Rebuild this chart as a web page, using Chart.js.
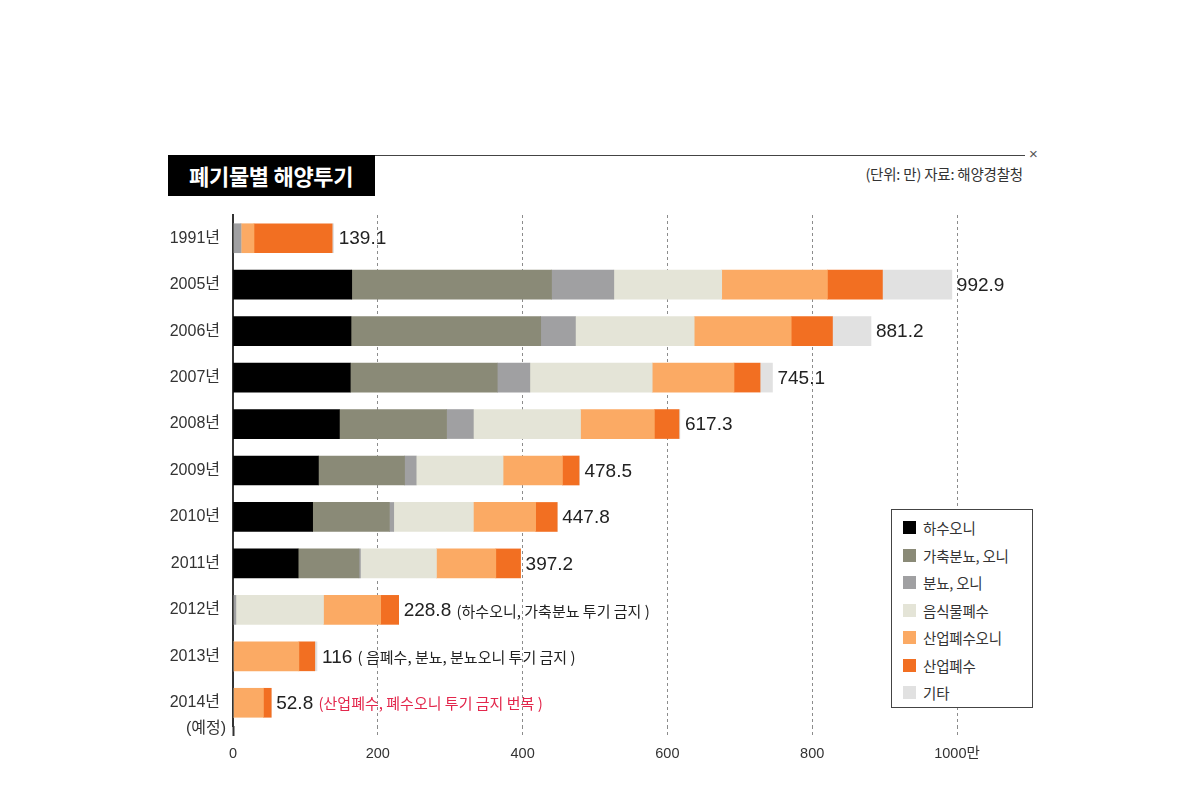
<!DOCTYPE html>
<html>
<head>
<meta charset="utf-8">
<script src="https://cdn.jsdelivr.net/npm/chart.js@4"></script>
<style>
  body { margin: 0; width: 1190px; height: 809px; background: #fff; position: relative; overflow: hidden;
         font-family: "Noto Sans CJK KR", "Liberation Sans", sans-serif; color: #333; }
  #myChart { position: absolute; left: 0; top: 0; }
  .titleBox { position: absolute; left: 168px; top: 155px; width: 207px; height: 41px; background: #000;
              color: #fff; font-weight: 700; font-size: 22px; line-height: 41px; box-sizing: border-box;
              padding-left: 21px; letter-spacing: -0.3px; }
  .topLine { position: absolute; left: 375px; top: 155px; width: 650px; height: 1px; background: #444; }
  .close { position: absolute; left: 1029px; top: 145px; font-size: 15px; color: #555; font-family: "Liberation Sans", sans-serif; }
  .unit { position: absolute; right: 167px; top: 163px; font-size: 14.5px; color: #333; letter-spacing: -0.2px; }
  #legend { position: absolute; left: 891px; top: 509px; width: 142px; height: 199px; box-sizing: border-box;
            border: 1.5px solid #444; background: #fff; padding-top: 4px; }
  .item { height: 27.5px; display: flex; align-items: center; padding-left: 11px; font-size: 14.5px; color: #333; letter-spacing: -0.2px; }
  .item span.sw { width: 13px; height: 13px; margin-right: 7px; display: inline-block; }
</style>
</head>
<body>
<div class="titleBox">폐기물별 해양투기</div>
<div class="topLine"></div>
<div class="close">×</div>
<div class="unit">(단위: 만) 자료: 해양경찰청</div>
<canvas id="myChart" width="1190" height="809"></canvas>
<div id="legend"></div>
<script>
const categories = ["1991년", "2005년", "2006년", "2007년", "2008년", "2009년", "2010년", "2011년", "2012년", "2013년", "2014년"];
const subLabels = ["", "", "", "", "", "", "", "", "", "", "(예정)"];
const sewageSludge = [0, 164, 163, 162, 147, 118, 110, 90, 0, 0, 0];
const livestock = [0, 276, 262, 203, 148, 119, 106, 84, 0, 0, 0];
const nightSoil = [11, 86, 48, 45, 37, 16, 6, 2, 4, 0, 0];
const foodWaste = [0, 149, 164, 169, 148, 120, 110, 105, 121, 0, 0];
const industrialSludge = [18, 146, 134, 113, 102, 82, 86, 82, 79, 91, 42];
const industrialWaste = [108, 76, 57, 36, 34, 23, 29.8, 34.2, 24.8, 22, 10.8];
const others = [2.1, 95.9, 53.2, 17.1, 1.3, 0.5, 0, 0, 0, 3, 0];
const totals = [139.1, 992.9, 881.2, 745.1, 617.3, 478.5, 447.8, 397.2, 228.8, 116, 52.8];
const notes = ["", "", "", "", "", "", "", "", "(하수오니, 가축분뇨 투기 금지 )", "( 음폐수, 분뇨, 분뇨오니 투기 금지 )", "(산업폐수, 폐수오니 투기 금지 번복 )"];
const noteColors = ["#222", "#222", "#222", "#222", "#222", "#222", "#222", "#222", "#222", "#222", "#e3274c"];
const xTicks = [0, 200, 400, 600, 800, 1000];

const series = [
  { label: "하수오니", data: sewageSludge, color: "#000000" },
  { label: "가축분뇨, 오니", data: livestock, color: "#8a8a77" },
  { label: "분뇨, 오니", data: nightSoil, color: "#a0a0a2" },
  { label: "음식물폐수", data: foodWaste, color: "#e4e4d7" },
  { label: "산업폐수오니", data: industrialSludge, color: "#fbaa64" },
  { label: "산업폐수", data: industrialWaste, color: "#f26f22" },
  { label: "기타", data: others, color: "#e1e1e1" },
];

const numFont = "19px 'Liberation Sans', 'Noto Sans CJK KR', sans-serif";
const noteFont = "15px 'Noto Sans CJK KR', sans-serif";

// totals, notes and the second line of the 2014 label
const labelPlugin = {
  id: "labelPlugin",
  afterDraw(chart) {
    const ctx = chart.ctx;
    const x = chart.scales.x;
    const y = chart.scales.y;
    ctx.save();
    ctx.textBaseline = "middle";
    for (var i = 0; i < categories.length; i++) {
      const px = x.getPixelForValue(totals[i]) + 5;
      const py = y.getPixelForValue(i) + 1;
      ctx.font = numFont;
      ctx.fillStyle = "#222";
      ctx.textAlign = "left";
      const txt = String(totals[i]);
      ctx.fillText(txt, px, py);
      if (notes[i]) {
        const w = ctx.measureText(txt + " ").width;
        ctx.font = noteFont;
        ctx.fillStyle = noteColors[i];
        ctx.fillText(notes[i], px + w, py);
      }
      if (subLabels[i]) {
        ctx.font = "16px 'Liberation Sans', 'Noto Sans CJK KR', sans-serif";
        ctx.fillStyle = "#333";
        ctx.textAlign = "right";
        ctx.fillText(subLabels[i], chart.chartArea.left - 7, py + 25);
      }
    }
    ctx.restore();
  },
};

const fam = "'Liberation Sans', 'Noto Sans CJK KR', sans-serif";

const config = {
  type: "bar",
  data: {
    labels: categories,
    datasets: series.map((s) => ({
      label: s.label,
      data: s.data,
      backgroundColor: s.color,
      borderWidth: 0,
      barThickness: 29,
    })),
  },
  options: {
    indexAxis: "y",
    responsive: false,
    animation: false,
    layout: { padding: { left: 163, right: 233, top: 215, bottom: 43 } },
    plugins: { legend: { display: false }, tooltip: { enabled: false } },
    scales: {
      x: {
        stacked: true,
        min: 0,
        max: 1000,
        afterFit: (s) => { s.height = 40; },
        afterBuildTicks: (s) => { s.ticks = xTicks.map((v) => ({ value: v })); },
        border: { display: false, dash: [3, 3] },
        grid: {
          color: (c) => (c.tick && c.tick.value === 0 ? "rgba(0,0,0,0)" : "#8c8c8c"),
          lineWidth: 1,
          tickLength: 10,
          tickColor: (c) => (c.tick && c.tick.value === 0 ? "#333" : "#8c8c8c"),
          tickWidth: (c) => (c.tick && c.tick.value === 0 ? 2 : 1),
          tickBorderDash: (c) => (c.tick && c.tick.value === 0 ? [] : [3, 3]),
        },
        ticks: {
          padding: 9,
          color: "#333",
          font: { family: fam, size: 14.5 },
          callback: (v) => (v === 1000 ? "1000만" : v),
        },
      },
      y: {
        stacked: true,
        afterFit: (s) => { s.width = 70; },
        grid: { display: false },
        border: { display: true, color: "#333", width: 2 },
        ticks: { padding: 5, color: "#333", font: { family: fam, size: 16 } },
      },
    },
  },
  plugins: [labelPlugin],
};

const myChart = new Chart(document.getElementById("myChart"), config);

// legend box
const legend = document.getElementById("legend");
series.forEach((s) => {
  const row = document.createElement("div");
  row.className = "item";
  row.innerHTML = '<span class="sw" style="background:' + s.color + '"></span>' + s.label;
  legend.appendChild(row);
});
</script>
</body>
</html>
